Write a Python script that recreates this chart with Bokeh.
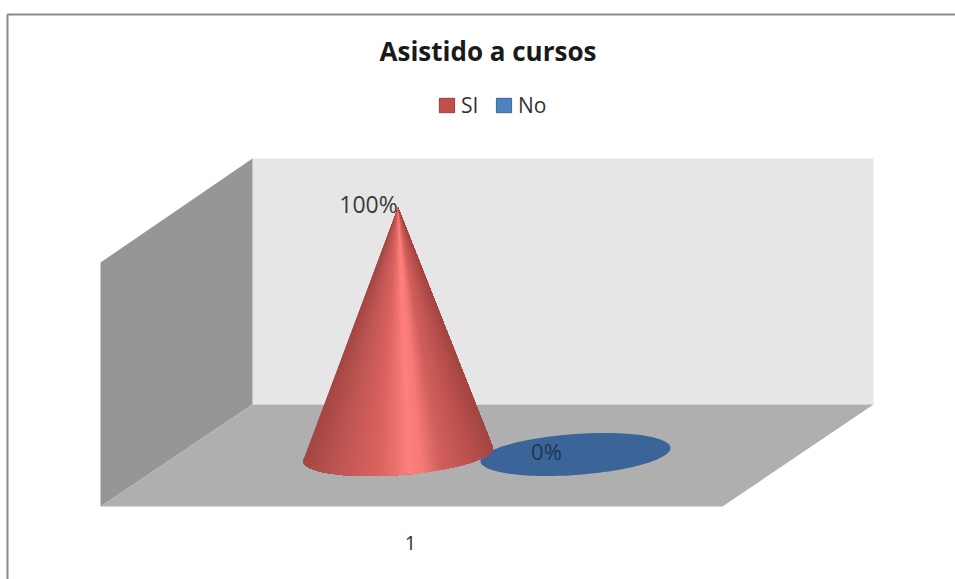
import numpy as np
from bokeh.core.properties import value
from bokeh.embed import file_html
from bokeh.models import ColumnDataSource, Legend, LegendItem, Range1d
from bokeh.plotting import figure
from bokeh.resources import INLINE

# Chart data
title = "Asistido a cursos"
series = ["SI", "No"]
shares = [100, 0]
share_labels = ["100%", "0%"]
categories = ["1"]
legend_colors = ["#c0504d", "#4f81bd"]
legend_borders = ["#9a3f3c", "#3a6595"]
flat_colors = ["#c0504d", "#3b6598"]

# Layout of the 3D box, in canvas units
W, H = 955, 579
BACK_L, BACK_R, BACK_T, BACK_B = 252, 873, 158, 404
FRONT_L, FRONT_R, FRONT_T, FRONT_B = 100, 722, 262, 506
CONE_CX = [397.5, 575]
CONE_BASE_Y = 454
CONE_FULL_H = 247
RX, RY, SKEW = 95, 20.5, 6.5
FONT = value("Open Sans")

# Horizontal shading across a cone: position, then colour
SHADE_POS = [0.0, 0.14, 0.38, 0.48, 0.55, 0.62, 0.72, 0.9, 1.0]
SHADE_RGB = np.array([
    [0xa5, 0x47, 0x45], [0xba, 0x54, 0x51], [0xda, 0x63, 0x5f],
    [0xec, 0x72, 0x6e], [0xff, 0x80, 0x7e], [0xf6, 0x7a, 0x76],
    [0xd2, 0x60, 0x5c], [0xb8, 0x4f, 0x4c], [0xa4, 0x46, 0x43],
])


def shade(u):
    rgb = [int(np.interp(u, SHADE_POS, SHADE_RGB[:, i])) for i in range(3)]
    return "#%02x%02x%02x" % tuple(rgb)


def base_point(cx, t):
    return cx + RX * np.cos(t), CONE_BASE_Y - SKEW * np.cos(t) + RY * np.sin(t)


p = figure(width=W, height=H, output_backend="svg", toolbar_location=None,
           x_range=Range1d(0, W), y_range=Range1d(H, 0), min_border=0,
           background_fill_color="white", border_fill_color="white")
p.xaxis.visible = False
p.yaxis.visible = False
p.grid.visible = False
p.outline_line_color = None

# Chart frame: only the top and left rules are visible
p.line([7, 7, W], [H, 14, 14], line_color="#8a8a8a", line_width=2)

# Walls and floor
p.patch([BACK_L, BACK_R, BACK_R, BACK_L], [BACK_T, BACK_T, BACK_B, BACK_B],
        fill_color="#e6e6e6", line_color=None)
p.patch([FRONT_L, BACK_L, BACK_L, FRONT_L], [FRONT_T, BACK_T, BACK_B, FRONT_B],
        fill_color="#969696", line_color=None)
p.patch([BACK_L, BACK_R, FRONT_R, FRONT_L], [BACK_B, BACK_B, FRONT_B, FRONT_B],
        fill_color="#afafaf", line_color=None)

# The zero-height cone is just its base ellipse
tt = np.linspace(0, 2 * np.pi, 120)
for i in reversed(range(len(series))):
    bx, by = base_point(CONE_CX[i], tt)
    p.patch(bx, by, fill_color=flat_colors[i], line_color=None)
    if shares[i] > 0:
        apex_y = CONE_BASE_Y - shares[i] / 100 * CONE_FULL_H
        # Each fan runs from its own edge to the far side of the cone, painted
        # left to right so that neighbouring shades overlap without seams
        edges = np.linspace(np.pi, 0, 91)
        xs, ys, cols = [], [], []
        for k in range(len(edges) - 1):
            ax, ay = base_point(CONE_CX[i], edges[k:])
            xs.append([CONE_CX[i], *ax])
            ys.append([apex_y, *ay])
            cols.append(shade((ax[0] - (CONE_CX[i] - RX)) / (2 * RX)))
        p.patches(xs, ys, fill_color=cols, line_color=None)

# Value labels
p.text([368], [203], text=[share_labels[0]], text_font=FONT, text_font_size="23px",
       text_color="#3a3a3a", text_align="center", text_baseline="middle")
p.text([546], [450], text=[share_labels[1]], text_font=FONT, text_font_size="22px",
       text_color="#1f3550", text_align="center", text_baseline="middle")

# Title and category label
p.text([487.5], [50], text=[title], text_font=FONT, text_font_size="26px",
       text_font_style="bold", text_color="#1a1a1a", text_align="center",
       text_baseline="middle")
p.text([410], [542], text=categories, text_font=FONT, text_font_size="20px",
       text_color="#333333", text_align="center", text_baseline="middle")

# Legend, keyed by swatch renderers that have nothing to place on the canvas
empty = ColumnDataSource(dict(l=[np.nan], r=[np.nan], t=[np.nan], b=[np.nan]))
items = []
for name, col, edge in zip(series, legend_colors, legend_borders):
    swatch = p.quad(left="l", right="r", top="t", bottom="b", source=empty,
                    fill_color=col, line_color=edge)
    items.append(LegendItem(label=name, renderers=[swatch]))
legend = Legend(items=items, orientation="horizontal", location=(437, H - 119),
                padding=0, margin=0, spacing=13, glyph_width=19, glyph_height=18,
                label_standoff=5, label_text_font="Open Sans",
                label_text_font_size="21px", label_text_color="#333333",
                background_fill_alpha=0, border_line_color=None)
p.add_layout(legend, "center")

open("out.html", "w").write(file_html(p, INLINE))
